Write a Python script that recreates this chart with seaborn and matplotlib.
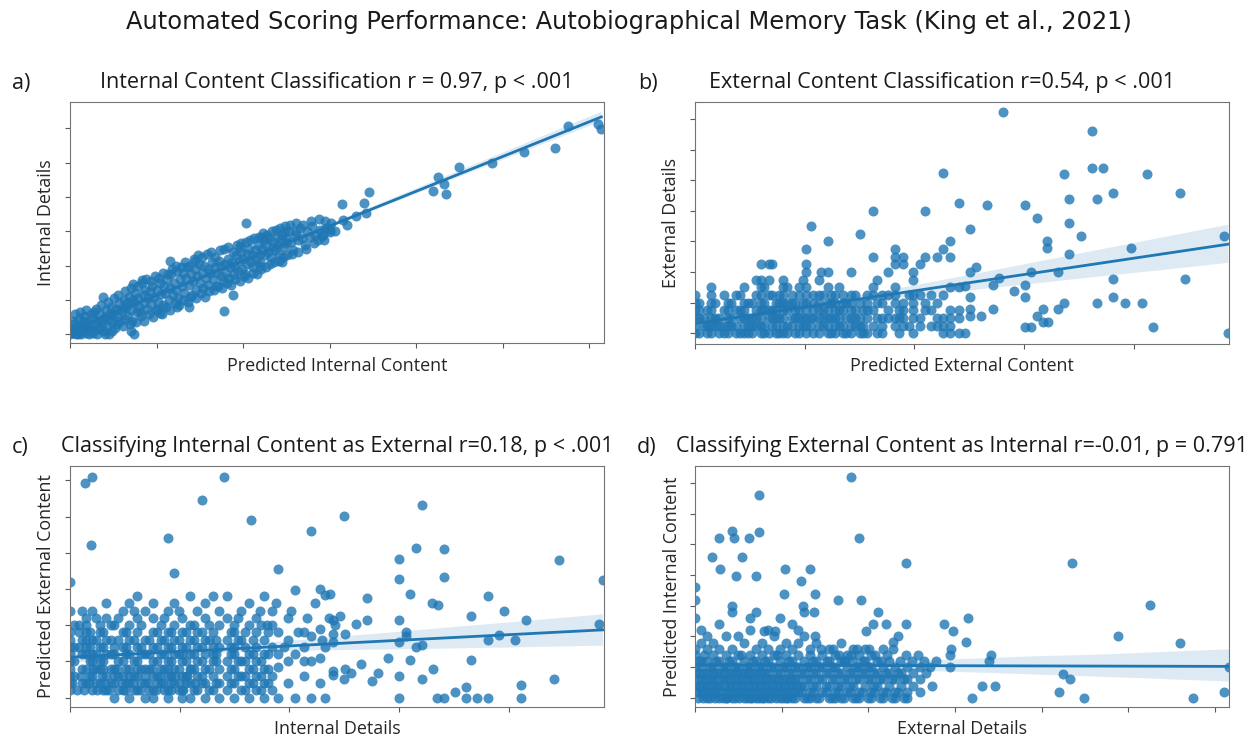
import matplotlib
matplotlib.use("Agg")
import matplotlib.pyplot as plt
from matplotlib.ticker import MultipleLocator
import seaborn as sns
import pandas as pd

# ---------------- data ----------------
# Panel a: Predicted Internal Content (x) vs Internal Details (y)
A_BAND = [
    (0.0,0.0),(0.2,1.5),(0.4,0.5),(0.5,3.0),(0.7,0.0),(0.8,2.2),(1.0,4.5),(1.1,1.0),(1.3,0.0),(1.4,2.8),
    (1.6,5.5),(1.7,1.8),(1.9,0.5),(2.0,3.5),(2.2,0.0),(2.3,2.5),(2.5,4.8),(2.6,1.2),(2.8,6.5),(2.9,3.0),
    (3.1,0.0),(3.2,4.0),(3.4,2.0),(3.5,6.0),(3.7,3.2),(3.9,1.0),(4.0,5.0),(4.2,7.0),(4.3,2.5),(4.5,4.5),
    (4.7,8.0),(4.8,3.5),(5.0,6.0),(5.2,2.0),(5.3,7.5),(5.5,5.0),(5.7,9.0),(5.8,3.8),(6.0,6.8),(6.2,10.0),
    (6.3,4.5),(6.5,8.0),(6.7,5.5),(6.8,11.0),(7.0,7.2),(7.2,4.0),(7.4,9.0),(7.5,12.0),(7.7,6.5),(7.9,10.5),
    (8.0,8.0),(8.2,5.5),(8.4,11.5),(8.5,9.2),(8.7,13.0),(8.9,7.5),(9.0,10.5),(9.2,12.5),(9.4,8.8),(9.5,14.0),
    (9.7,11.0),(9.9,7.0),(10.0,13.0),(10.2,9.5),(10.4,15.0),(10.5,11.8),(10.7,8.5),(10.9,14.0),(11.0,12.0),(11.2,16.0),
    (11.4,10.0),(11.5,13.5),(11.7,17.5),(11.9,11.5),(12.0,15.0),(12.2,13.0),(12.4,18.5),(12.5,10.5),(12.7,16.0),(12.9,14.0),
    (13.0,18.0),(13.2,12.0),(13.4,16.5),(13.5,19.5),(13.7,14.5),(13.9,11.0),(14.0,17.5),(14.2,15.5),(14.4,19.0),(14.5,13.0),
    (14.7,17.0),(14.9,20.5),(15.0,15.0),(15.2,18.0),(15.4,13.5),(15.5,20.0),(15.7,16.5),(15.9,19.0),(16.0,14.5),(16.2,17.8),
    (16.4,21.0),(16.5,16.0),(16.7,19.5),(16.9,14.0),(17.0,18.0),(17.2,21.5),(17.4,17.0),(17.5,19.8),(17.7,15.5),(17.9,20.5),
    (18.0,18.0),(18.2,22.0),(18.4,16.5),(18.5,19.5),(18.7,21.0),(18.9,17.5),(19.0,20.0),(19.2,23.0),(19.4,18.5),(19.5,21.5),
    (19.7,24.0),(19.9,19.0),(20.0,22.0),(20.2,17.5),(20.4,23.5),(20.5,20.5),(20.7,25.0),(20.9,21.0),(21.0,23.0),(21.2,19.5),
    (21.4,24.5),(21.5,22.0),(21.7,26.0),(21.9,23.5),(22.0,21.0),(22.2,25.0),(22.4,27.5),(22.5,23.0),(22.7,26.0),(22.9,24.0),
    (23.0,28.0),(23.2,22.5),(23.4,25.5),(23.5,27.0),(23.7,24.5),(23.9,28.5),(24.0,26.0),(24.2,23.5),(24.4,27.5),(24.5,29.0),
    (24.7,25.5),(24.9,28.0),(25.0,26.5),(25.3,30.0),(25.5,27.0),(25.8,24.5),(26.0,29.0),(26.3,27.5),(26.6,31.0),(26.8,28.0),
    (27.1,26.0),(27.4,30.0),(27.7,28.5),(28.0,31.5),(28.3,29.0),(28.6,27.5),(28.9,30.5),(29.2,29.0),(29.6,31.0),(30.0,30.5),
]
A_BAND_EDGES = [
    (0.3,4.0),(0.6,6.0),(0.9,0.0),(1.2,6.5),(1.5,3.8),(1.8,7.0),(2.1,1.5),(2.4,5.8),(2.7,0.5),(3.0,7.5),
    (3.3,1.5),(3.6,8.5),(3.8,4.5),(4.1,0.0),(4.4,9.5),(4.6,6.0),(4.9,1.0),(5.1,10.5),(5.4,3.0),(5.6,11.5),
    (5.9,7.5),(6.1,2.5),(6.4,12.5),(6.6,9.0),(6.9,3.0),(7.1,13.5),(7.3,10.0),(7.6,3.5),(7.8,14.0),(8.1,6.5),
    (8.3,15.0),(8.6,4.0),(8.8,16.0),(9.1,6.0),(9.3,15.5),(9.6,5.0),(9.8,17.0),(10.1,7.5),(10.3,16.5),(10.6,6.0),
    (10.8,18.0),(11.1,8.0),(11.3,17.5),(11.6,7.0),(11.8,19.0),(12.1,9.0),(12.3,20.0),(12.6,8.5),(12.8,19.5),(13.1,10.0),
    (13.3,21.0),(13.6,9.5),(13.8,20.0),(14.1,11.5),(14.3,22.0),(14.6,10.5),(14.8,23.0),(15.1,12.0),(15.3,22.5),(15.6,11.0),
    (15.8,23.5),(16.1,12.5),(16.3,24.0),(16.6,13.0),(16.8,22.5),(17.1,14.0),(17.3,24.5),(17.6,13.5),(17.8,25.0),(18.1,15.0),
    (18.3,25.5),(18.6,14.5),(18.8,24.0),(19.1,16.0),(19.3,26.0),(19.6,15.5),(19.8,26.5),(20.1,17.0),(20.3,27.0),(20.6,16.5),
    (20.8,27.5),(21.1,18.0),(21.3,28.0),(21.6,17.5),(21.8,28.5),(22.1,19.0),(22.3,29.5),(22.6,19.5),(22.8,29.0),(23.1,20.5),
    (23.3,30.0),(23.6,21.0),(23.8,30.5),(24.1,21.5),(24.3,31.0),(24.6,22.5),(24.8,31.5),(25.1,23.0),(25.4,32.0),(25.7,23.5),
    (26.1,32.5),(26.4,24.0),(26.9,32.0),(27.3,25.0),(27.8,33.0),(28.2,26.5),(28.8,33.5),(29.4,27.5),(30.2,32.5),(30.6,30.0),
]
A_SPARSE = [
    (3.8,10.8),(4.5,0.0),(7.4,0.0),(7.0,1.0),(8.3,15.8),(7.3,14.7),(10.4,6.1),(11.6,21.5),(12.4,8.1),(13.8,8.1),
    (14.4,21.5),(17.8,6.9),(18.8,11.5),(20.3,32.4),(19.6,25.5),(21.9,19.9),(24.5,21.0),(22.2,28.4),(24.8,29.9),(26.1,29.7),
    (29.1,28.6),(29.5,33.0),(30.0,29.7),(31.4,37.9),(31.5,33.3),(32.0,32.0),(33.0,34.6),(34.0,38.4),(34.2,35.3),(34.6,41.4),
    (42.0,41.8),(42.5,45.9),(43.2,43.8),(43.4,40.9),(44.9,48.8),(48.8,49.8),(52.5,53.0),(56.0,54.4),(57.5,60.7),(61.0,61.2),
    (61.4,59.7),
]

# Panel b: Predicted External Content (x) vs External Details (y)
B_DENSE = [
    (0.0,0),(0.0,2.5),(0.0,5),(0.0,7.5),(0.0,10),(0.0,12.5),
    (0.8,2.5),(0.8,5),
    (1.5,0),(1.5,2.5),(1.5,5),(1.5,7.5),(1.5,10),(1.5,12.5),(1.5,15),
    (2.2,0),(2.2,2.5),(2.2,5),
    (3.0,0),(3.0,2.5),(3.0,5),(3.0,7.5),(3.0,10),
    (3.7,0),(3.7,2.5),(3.7,7.5),(3.7,12.5),
    (4.5,0),(4.5,2.5),(4.5,5),(4.5,7.5),(4.5,10),(4.5,15),
    (5.2,0),(5.2,2.5),(5.2,5),(5.2,10),
    (6.0,0),(6.0,2.5),(6.0,5),(6.0,7.5),(6.0,10),(6.0,12.5),(6.0,15),(6.0,17.5),(6.0,22.5),
    (6.7,0),(6.7,5),(6.7,7.5),(6.7,12.5),(6.7,17.5),(6.7,22.5),
    (7.4,0),(7.4,2.5),(7.4,5),(7.4,7.5),(7.4,10),
    (8.0,0),(8.0,2.5),(8.0,5),(8.0,7.5),(8.0,10),(8.0,12.5),(8.0,15),(8.0,17.5),
    (8.8,2.5),(8.8,5),(8.8,10),(8.8,12.5),
    (9.5,0),(9.5,2.5),(9.5,5),(9.5,7.5),(9.5,12.5),(9.5,15),
    (10.1,0),(10.1,2.5),(10.1,5),(10.1,7.5),(10.1,10),(10.1,12.5),(10.1,15),(10.1,20),(10.1,22.5),(10.1,27.5),
    (10.6,2.5),(10.6,5),(10.6,35),
    (11.3,0),(11.3,2.5),(11.3,5),(11.3,7.5),(11.3,10),(11.3,12.5),(11.3,17.5),(11.5,20),
    (12.1,0),(12.1,2.5),(12.1,5),(12.1,7.5),(12.1,10),(12.1,15),(12.1,20),(12.1,30),
    (12.8,0),(12.8,2.5),(12.8,5),(12.8,7.5),(12.8,10),(12.8,12.5),
    (13.5,0),(13.5,2.5),(13.5,7.5),(13.5,10),(13.5,12.5),
    (14.2,0),(14.2,2.5),(14.2,5),(14.2,7.5),(14.2,10),(14.2,12.5),(14.2,20),
    (15.0,0),(15.0,2.5),(15.0,5),(15.0,10),(15.0,32.5),
    (15.7,0),(15.7,5),(15.7,7.5),(15.7,10),(15.7,12.5),
    (16.2,2.5),(16.2,7.5),(16.2,12.5),(16.2,15),(16.2,25),(16.2,40),
    (17.0,0),(17.0,2.5),(17.0,5),(17.0,10),(17.0,12.5),
    (17.6,5),(17.6,7.5),(17.6,12.5),(17.6,20),
    (18.2,2.5),(18.2,5),(18.2,10),(18.2,12.5),(18.2,15),(18.2,22.5),(18.2,25),(18.2,27.5),
    (19.0,2.5),(19.0,5),(19.0,7.5),(19.0,10),(19.0,22.5),(19.0,25),
    (19.9,0),(19.9,5),(19.9,7.5),(19.9,10),(19.9,12.5),(19.9,17.5),(19.9,20),
    (20.5,2.5),(20.5,5),(20.5,12.5),(20.5,22.5),
    (21.0,7.5),(21.0,10),(21.0,25),(21.0,40),
    (22.1,2.5),(22.1,5),(22.1,10),(22.1,25),
    (22.6,0),(22.6,2.5),(22.6,5),(22.6,12.5),(22.6,27.5),(22.6,52.5),
    (23.2,0),(23.2,2.5),(23.2,5),(23.2,7.5),(23.2,15),(23.2,25),(23.2,30),
    (24.1,0),(24.1,5),(24.1,7.5),(24.1,15),(24.1,42.5),
]
B_DENSE_FILL = [
    (0.4,0),(0.4,5),(0.4,7.5),(0.4,10),
    (1.1,0),(1.1,2.5),(1.1,7.5),
    (1.8,2.5),(1.8,5),(1.8,10),
    (2.6,0),(2.6,2.5),(2.6,7.5),(2.6,12.5),
    (3.3,2.5),(3.3,5),(3.3,10),
    (4.1,0),(4.1,5),(4.1,7.5),(4.1,12.5),
    (4.8,0),(4.8,2.5),(4.8,5),(4.8,10),
    (5.6,2.5),(5.6,5),(5.6,7.5),(5.6,12.5),(5.6,17.5),
    (6.3,0),(6.3,2.5),(6.3,7.5),(6.3,10),(6.3,15),
    (7.0,2.5),(7.0,5),(7.0,7.5),(7.0,12.5),(7.0,22.5),
    (7.7,0),(7.7,5),(7.7,10),(7.7,12.5),
    (8.4,0),(8.4,2.5),(8.4,7.5),(8.4,10),(8.4,15),
    (9.1,0),(9.1,5),(9.1,7.5),(9.1,10),
    (9.8,2.5),(9.8,5),(9.8,10),(9.8,17.5),
    (10.8,0),(10.8,5),(10.8,7.5),(10.8,10),(10.8,12.5),
    (11.7,2.5),(11.7,5),(11.7,7.5),(11.7,12.5),
    (12.4,0),(12.4,5),(12.4,10),(12.4,12.5),
    (13.1,2.5),(13.1,5),(13.1,7.5),(13.1,15),
    (13.8,0),(13.8,5),(13.8,10),
    (14.6,2.5),(14.6,5),(14.6,7.5),(14.6,12.5),
    (15.3,0),(15.3,2.5),(15.3,7.5),
    (16.6,0),(16.6,5),(16.6,10),(16.6,17.5),
    (18.6,0),(18.6,5),(18.6,7.5),
    (19.5,2.5),(19.5,12.5),
    (21.5,2.5),(21.5,7.5),(21.5,12.5),
]
B_SPARSE = [
    (28.1,72.2),(36.2,66.1),(36.2,54.1),(37.2,54.1),(33.6,52.0),(41.2,52.0),(34.1,43.9),(36.6,43.9),(38.1,46.0),(44.2,46.0),
    (26.6,41.9),(30.1,41.9),(31.2,37.8),(25.1,34.0),(34.1,36.0),(35.2,31.9),(32.1,30.0),(32.1,27.8),(34.1,25.8),(39.7,27.8),
    (48.2,31.9),(25.6,21.8),(25.1,19.9),(27.7,18.0),(27.2,15.8),(30.6,19.9),(33.1,19.9),(38.1,17.8),(44.7,17.8),(29.1,13.8),
    (30.1,15.8),(30.1,11.8),(25.1,11.8),(24.6,15.3),(25.1,7.8),(25.1,5.8),(26.1,5.8),(27.2,7.8),(24.6,0.0),(30.1,1.9),
    (30.6,1.9),(31.2,5.8),(31.7,7.8),(31.7,3.8),(32.2,3.8),(33.1,7.8),(33.6,9.8),(36.6,9.8),(38.1,11.8),(39.2,9.8),
    (40.7,9.8),(41.7,1.9),(48.6,0.0),
]

# Panel c: Internal Details (x) vs Predicted External Content (y)
C_DENSE = [
    (0.0,2),(0.0,4),(0.0,6),(0.0,8),(0.0,10),(0.0,12),(0.0,14),(0.0,16),(0.0,18),(0.0,24),(0.0,32),
    (0.8,14),(0.8,18),(0.8,20),
    (1.5,4),(1.5,8),(1.5,12),(1.5,14),(1.5,16),(1.5,18),(1.5,20),(1.5,22),(1.4,59.4),
    (2.0,2),(2.0,6),(2.0,10),(2.0,12),(2.0,16),(2.0,24),(2.0,61),(1.9,42.1),
    (2.7,4),(2.7,8),(2.7,10),(2.7,14),(2.7,18),(2.7,20),
    (3.3,2),(3.3,6),(3.3,12),(3.3,16),(3.3,22),(3.3,26),
    (4.0,0),(4.0,4),(4.0,8),(4.0,12),(4.0,14),(4.0,20),
    (4.8,2),(4.8,6),(4.8,10),(4.8,14),(4.8,18),(4.8,24),
    (5.4,0),(5.4,4),(5.4,8),(5.4,12),(5.4,16),(5.4,20),(5.4,26),
    (6.1,2),(6.1,6),(6.1,10),(6.1,14),(6.1,18),(6.1,22),(6.1,28),
    (6.8,0),(6.8,4),(6.8,8),(6.8,12),(6.8,16),(6.8,24),
    (7.6,0),(7.6,2),(7.6,6),(7.6,10),(7.6,14),(7.6,18),(7.6,22),(7.6,26),
    (8.3,4),(8.3,8),(8.3,12),(8.3,16),(8.3,20),
    (8.9,0),(8.9,2),(8.9,6),(8.9,10),(8.9,14),(8.9,18),(8.9,24),(8.9,44.1),
    (9.5,4),(9.5,8),(9.5,12),(9.5,16),(9.5,20),(9.5,26),(9.5,34.5),
    (10.2,0),(10.2,2),(10.2,6),(10.2,10),(10.2,12),(10.2,14),(10.2,18),(10.2,22),
    (10.9,0),(10.9,4),(10.9,8),(10.9,12),(10.9,16),(10.9,20),(10.9,28),
    (11.6,2),(11.6,6),(11.6,10),(11.6,14),(11.6,18),(11.6,24),
    (12.0,54.5),
    (12.3,0),(12.3,4),(12.3,8),(12.3,12),(12.3,16),(12.3,22),(12.3,26),
    (13.0,2),(13.0,6),(13.0,10),(13.0,12),(13.0,14),(13.0,18),(13.0,28),
    (13.6,0),(13.6,4),(13.6,8),(13.6,14),(13.6,20),(13.6,24),
    (14.0,61),
    (14.3,2),(14.3,6),(14.3,10),(14.3,16),(14.3,22),(14.3,28),
    (15.0,0),(15.0,4),(15.0,8),(15.0,12),(15.0,14),(15.0,18),(15.0,20),
    (15.6,2),(15.6,6),(15.6,10),(15.6,16),(15.6,24),
    (16.3,0),(16.3,4),(16.3,8),(16.3,12),(16.3,20),(16.3,26),
    (16.5,49),
    (17.0,2),(17.0,6),(17.0,10),(17.0,14),(17.0,18),(17.0,22),
    (17.7,0),(17.7,4),(17.7,8),(17.7,12),(17.7,16),(17.7,28),
    (18.4,2),(18.4,6),(18.4,14),(18.4,20),(18.4,24),
    (19.0,0),(19.0,8.5),(19.0,12),(19.0,18),(19.0,35.6),
    (19.9,4),(19.9,10),(19.9,16),(19.9,22),
    (20.5,0),(20.5,12),(20.5,29.6),
    (21.3,6),(21.3,10),(21.3,14),(21.3,18),
    (22.0,0),(22.0,10),(22.0,17),(22.0,46),
    (22.8,4),(22.8,11),(22.8,19),(22.8,30),
    (23.3,0),(23.3,14),(23.3,28.3),
]
C_DENSE_FILL = [
    (0.4,6),(0.4,10),(0.4,14),(0.4,20),
    (1.1,4),(1.1,8),(1.1,12),(1.1,16),(1.1,24),
    (1.8,6),(1.8,10),(1.8,14),(1.8,18),
    (2.4,4),(2.4,8),(2.4,12),(2.4,16),(2.4,22),
    (3.0,2),(3.0,8),(3.0,10),(3.0,14),(3.0,18),
    (3.7,4),(3.7,8),(3.7,12),(3.7,16),(3.7,20),
    (4.4,2),(4.4,6),(4.4,10),(4.4,16),(4.4,22),
    (5.1,4),(5.1,8),(5.1,12),(5.1,14),(5.1,18),
    (5.8,2),(5.8,6),(5.8,10),(5.8,16),(5.8,24),
    (6.5,4),(6.5,8),(6.5,12),(6.5,14),(6.5,20),
    (7.2,2),(7.2,8),(7.2,12),(7.2,16),
    (7.9,4),(7.9,6),(7.9,10),(7.9,14),(7.9,18),
    (8.6,2),(8.6,8),(8.6,12),(8.6,16),(8.6,22),
    (9.2,4),(9.2,6),(9.2,10),(9.2,14),(9.2,18),
    (9.9,2),(9.9,8),(9.9,12),(9.9,16),(9.9,24),
    (10.6,4),(10.6,6),(10.6,10),(10.6,14),(10.6,18),
    (11.3,2),(11.3,8),(11.3,12),(11.3,16),(11.3,20),
    (12.0,4),(12.0,6),(12.0,10),(12.0,14),(12.0,18),
    (12.7,2),(12.7,8),(12.7,16),(12.7,20),
    (13.3,4),(13.3,10),(13.3,12),(13.3,16),
    (14.7,4),(14.7,8),(14.7,12),(14.7,14),(14.7,18),
    (15.3,6),(15.3,10),(15.3,16),(15.3,22),
    (16.0,2),(16.0,6),(16.0,10),(16.0,14),(16.0,18),
    (16.7,4),(16.7,8),(16.7,12),(16.7,16),
    (17.4,2),(17.4,6),(17.4,10),(17.4,20),
    (18.1,4),(18.1,8),(18.1,12),(18.1,18),
]
C_LOW_ROWS = [
    (0.2,4),(0.6,2),(1.0,6),(1.3,2),(1.7,4),(2.1,8),(2.5,2),(2.9,6),(3.2,4),(3.6,2),
    (4.0,6),(4.3,8),(4.7,4),(5.0,2),(5.4,6),(5.7,4),(6.1,8),(6.4,2),(6.8,6),(7.1,4),
    (7.5,8),(7.8,2),(8.2,6),(8.5,4),(8.9,8),(9.2,2),(9.6,6),(10.0,4),(10.3,2),(10.7,6),
    (11.0,8),(11.4,4),
]
C_RIGHT_EDGE = [
    (17.3,24),(18.0,20),(18.8,26),(19.5,14),(20.2,24),(20.8,18),(21.6,22),(22.3,26),(23.0,16),(23.6,22),(24.2,20),
]
C_SPARSE = [
    (25.0,50.1),(32.1,53.1),(31.6,41.4),(34.1,41.0),(34.1,33.3),(30.0,38.4),(30.0,32.9),(44.6,37.9),(48.6,32.4),(31.0,28.5),
    (27.1,27.5),(23.7,28.5),(33.0,26.2),(33.6,25.5),(38.1,28.0),(39.6,23.9),(41.6,21.5),(36.6,22.6),(27.1,21.5),(26.1,20.3),
    (24.6,22.6),(24.0,21.4),(30.0,21.5),(25.1,17.5),(24.0,17.5),(24.0,15.4),(30.6,18.0),(30.6,17.0),(30.0,15.4),(31.6,14.0),
    (32.1,14.6),(38.1,15.8),(39.1,17.4),(40.6,15.8),(48.2,20.3),(29.0,11.0),(26.5,9.4),(31.0,10.5),(36.6,10.5),(24.0,7.3),
    (25.1,7.8),(25.6,6.9),(24.0,6.2),(28.1,6.9),(27.5,4.5),(25.0,5.0),(30.0,6.0),(33.1,7.8),(32.1,5.0),(44.1,5.0),
    (41.1,3.6),(41.1,0.0),(30.0,0.0),(33.5,0.0),(34.1,0.0),(35.1,1.6),(36.1,2.9),(36.1,0.0),(37.1,0.0),(38.1,0.0),
]

# Panel d: External Details (x) vs Predicted Internal Content (y)
D_DENSE = [
    (0.0,4),(0.0,8),(0.0,10),(0.0,14),(0.0,16),(0.0,26),(0.0,32),(0.0,36),
    (0.7,2),(0.7,6),(0.7,10),(0.7,12),(0.7,18),(0.7,22),
    (1.4,0),(1.4,4),(1.4,8),(1.4,12),(1.4,16),(1.4,20),
    (2.1,2),(2.1,6),(2.1,10),(2.1,14),(2.1,18),
    (2.8,0),(2.8,4),(2.8,8),(2.8,12),(2.8,16),(2.8,24),
    (3.5,0),(3.5,2),(3.5,6),(3.5,10),(3.5,14),(3.5,20),
    (4.2,0),(4.2,4),(4.2,8),(4.2,12),(4.2,16),(4.2,30),(4.2,28),
    (4.9,2),(4.9,6),(4.9,10),(4.9,14),(4.9,20),
    (5.6,0),(5.6,4),(5.6,8),(5.6,12),(5.6,18),
    (6.3,0),(6.3,2),(6.3,6),(6.3,10),(6.3,14),(6.3,22),(6.3,26),
    (7.0,0),(7.0,4),(7.0,8),(7.0,12),(7.0,16),(7.0,28),
    (7.7,0),(7.7,2),(7.7,6),(7.7,10),(7.7,14),(7.7,18),
    (8.4,0),(8.4,4),(8.4,8),(8.4,12),(8.4,16),(8.4,22),
    (9.1,2),(9.1,6),(9.1,10),(9.1,14),(9.1,20),
    (9.8,0),(9.8,4),(9.8,8),(9.8,12),(9.8,16),(9.8,26),
    (10.5,0),(10.5,2),(10.5,6),(10.5,10),(10.5,14),(10.5,18),
    (11.2,0),(11.2,4),(11.2,8),(11.2,12),(11.2,16),(11.2,24),
    (11.9,2),(11.9,6),(11.9,10),(11.9,14),(11.9,18),(11.9,22),
    (12.6,0),(12.6,4),(12.6,8),(12.6,12),(12.6,20),(12.6,28),
    (13.3,0),(13.3,2),(13.3,6),(13.3,10),(13.3,14),(13.3,16),
    (14.0,0),(14.0,4),(14.0,8),(14.0,12),(14.0,18),
    (14.7,2),(14.7,6),(14.7,10),(14.7,14),
    (15.4,0),(15.4,4),(15.4,8),(15.4,12),(15.4,16),
    (16.1,0),(16.1,2),(16.1,6),(16.1,10),(16.1,14),
    (16.8,0),(16.8,4),(16.8,8),(16.8,12),(16.8,18),
    (17.5,2),(17.5,6),(17.5,10),(17.5,14),
    (18.2,0),(18.2,4),(18.2,8),(18.2,12),(18.2,16),
    (18.9,0),(18.9,2),(18.9,6),(18.9,10),(18.9,14),
    (19.6,4),(19.6,8),(19.6,12),(19.6,16),
    (20.3,0),(20.3,2),(20.3,6),(20.3,10),(20.3,14),
    (21.0,4),(21.0,8),(21.0,12),
    (21.7,0),(21.7,2),(21.7,6),(21.7,10),(21.7,16),
    (22.4,4),(22.4,8),(22.4,12),
    (23.1,0),(23.1,2),(23.1,6),(23.1,10),
    (23.8,4),(23.8,8),
    (24.5,0),(24.5,2),(24.5,6),(24.5,10),
    (25.2,4),(25.2,8),
    (26.0,2),(26.0,6),(26.0,10),
    (26.7,8),(27.4,4),
]
D_DENSE_FILL = [
    (0.35,0),(0.35,6),(0.35,12),
    (1.05,2),(1.05,4),(1.05,8),(1.05,14),
    (1.75,0),(1.75,6),(1.75,10),
    (2.45,2),(2.45,4),(2.45,8),(2.45,12),
    (3.15,0),(3.15,6),(3.15,10),
    (3.85,2),(3.85,4),(3.85,8),(3.85,12),
    (4.55,0),(4.55,6),(4.55,10),
    (5.25,2),(5.25,4),(5.25,8),(5.25,14),
    (5.95,0),(5.95,6),(5.95,10),
    (6.65,2),(6.65,4),(6.65,8),(6.65,12),
    (7.35,0),(7.35,6),(7.35,10),
    (8.05,2),(8.05,4),(8.05,8),(8.05,12),
    (8.75,0),(8.75,6),(8.75,10),
    (9.45,2),(9.45,4),(9.45,8),(9.45,14),
    (10.15,0),(10.15,6),(10.15,10),
    (10.85,2),(10.85,4),(10.85,8),(10.85,12),
    (11.55,0),(11.55,6),(11.55,10),
    (12.25,2),(12.25,4),(12.25,8),
    (12.95,0),(12.95,6),(12.95,10),
    (13.65,2),(13.65,4),(13.65,8),(13.65,12),
    (14.35,0),(14.35,6),(14.35,10),
    (15.05,2),(15.05,4),(15.05,8),
    (15.75,0),(15.75,6),(15.75,10),
    (16.45,2),(16.45,4),(16.45,8),
    (17.15,0),(17.15,6),(17.15,12),
    (17.85,2),(17.85,4),(17.85,8),
    (18.55,0),(18.55,6),(18.55,10),
    (19.25,2),(19.25,8),
    (19.95,0),(19.95,6),(19.95,10),
    (20.65,2),(20.65,4),(20.65,8),
    (21.35,0),(21.35,6),
    (22.05,2),(22.05,8),
    (22.75,0),(22.75,6),
    (23.45,2),(23.45,8),
    (24.15,0),(24.15,6),
]
D_LOW_ROWS = [
    (0.2,2),(0.5,4),(0.9,0),(1.2,6),(1.6,2),(1.9,4),(2.3,0),(2.6,6),(3.0,2),(3.3,4),
    (3.7,0),(4.0,6),(4.4,2),(4.7,4),(5.1,0),(5.4,6),(5.8,2),(6.1,4),(6.5,0),(6.8,6),
    (7.2,2),(7.5,4),(7.9,0),(8.2,6),(8.6,2),(8.9,4),(9.3,0),(9.6,6),(10.0,2),(10.3,4),
    (10.7,0),(11.0,6),(11.4,2),(11.7,4),(0.6,8),(2.0,8),(3.4,8),(4.8,8),(6.2,8),(7.6,8),
]
D_MID_ROWS = [
    (14.5,16),(15.2,12),(15.9,16),(16.6,14),(17.3,12),(18.0,14),(18.7,16),(19.4,12),(20.1,16),(20.8,14),
    (21.5,12),(22.2,14),(22.9,16),(23.6,12),(24.3,14),(25.0,12),(25.7,14),(26.4,12),(27.1,10),(27.8,12),
]
D_SPARSE = [
    (18.0,71.9),(7.4,65.9),(18.9,52.0),(4.2,54.2),(4.5,52.0),(2.7,52.0),(6.2,52.0),(7.4,54.0),(1.9,45.8),(5.4,45.8),
    (2.9,42.0),(4.7,39.8),(7.0,39.8),(10.4,42.0),(13.3,42.0),(24.4,44.0),(12.2,38.0),(10.2,33.9),(13.8,33.9),(16.5,31.9),
    (19.2,31.9),(12.4,30.0),(21.1,27.9),(20.5,23.9),(22.0,23.9),(24.3,23.9),(19.7,21.9),(28.7,23.9),(29.8,21.9),(7.9,21.9),
    (9.2,21.9),(13.7,27.9),(13.8,20.1),(23.4,20.1),(22.9,18.1),(31.5,25.9),(31.3,18.1),
    (43.5,44.0),(52.5,30.1),(48.8,20.0),(56.0,17.9),(29.6,16.0),(29.4,14.0),(34.2,14.0),(33.9,11.9),(29.4,10.0),
    (61.7,10.0),(42.5,7.8),(43.3,6.0),(33.1,4.0),(34.6,4.0),(32.0,0.0),(42.0,1.8),(44.9,0.0),(57.5,0.0),(61.1,1.8),
]

SUPTITLE = "Automated Scoring Performance: Autobiographical Memory Task (King et al., 2021)"
TITLES = [
    "Internal Content Classification r = 0.97, p < .001",
    "External Content Classification r=0.54, p < .001",
    "Classifying Internal Content as External r=0.18, p < .001",
    "Classifying External Content as Internal r=-0.01, p = 0.791",
]
PANEL_LETTERS = ["a)", "b)", "c)", "d)"]
XLABELS = ["Predicted Internal Content", "Predicted External Content", "Internal Details", "External Details"]
YLABELS = ["Internal Details", "External Details", "Predicted External Content", "Predicted Internal Content"]

# ---------------- drawing ----------------
def frame(*parts):
    pts = [p for part in parts for p in part]
    return pd.DataFrame(pts, columns=["x", "y"])

frames = [frame(A_BAND, A_BAND_EDGES, A_SPARSE),
          frame(B_DENSE, B_DENSE_FILL, B_SPARSE),
          frame(C_DENSE, C_DENSE_FILL, C_LOW_ROWS, C_RIGHT_EDGE, C_SPARSE),
          frame(D_DENSE, D_DENSE_FILL, D_LOW_ROWS, D_MID_ROWS, D_SPARSE)]

FONT = ["Open Sans", "DejaVu Sans"]

fig = plt.figure(figsize=(12.57, 7.38), dpi=100)
rects = [
    [0.0557, 0.5348, 0.4248, 0.3266],
    [0.5529, 0.5335, 0.4251, 0.3279],
    [0.0557, 0.0420, 0.4248, 0.3266],
    [0.5531, 0.0420, 0.4249, 0.3266],
]
xlims = [(0, 61.7), (0, 48.7), (0, 48.7), (0, 61.7)]
ylims = [(-2.6, 67.6), (-3.6, 75.5), (-2.6, 64.0), (-3.0, 75.5)]
title_x = [0.5, 0.462, 0.5, 0.5]
letter_pos = [(12, 80), (638, 80), (12, 445), (637, 445)]

for i, df in enumerate(frames):
    ax = fig.add_axes(rects[i])
    sns.regplot(data=df, x="x", y="y", ax=ax, color="#1f77b4", seed=0,
                scatter_kws=dict(s=52, alpha=0.8, linewidths=0),
                line_kws=dict(lw=2))
    ax.set_xlim(*xlims[i])
    ax.set_ylim(*ylims[i])
    ax.xaxis.set_major_locator(MultipleLocator(10))
    ax.yaxis.set_major_locator(MultipleLocator(10))
    ax.tick_params(labelbottom=False, labelleft=False, color="0.35", length=3.5)
    for sp in ax.spines.values():
        sp.set_color("0.45")
    ax.set_xlabel(XLABELS[i], fontsize=12.9, family=FONT, labelpad=6, color="0.15")
    ax.set_ylabel(YLABELS[i], fontsize=12.9, family=FONT, labelpad=7, color="0.15")
    ax.set_title(TITLES[i], fontsize=15.5, family=FONT, pad=10, x=title_x[i], color="0.1")
    lx, ly = letter_pos[i]
    fig.text(lx / 1257, 1 - (ly + 3) / 738, PANEL_LETTERS[i], fontsize=15.5, family=FONT,
             va="center", ha="left", color="0.1")

fig.text(0.5, 1 - 22 / 738, SUPTITLE, fontsize=17.4, family="DejaVu Sans",
         ha="center", va="center", color="0.1")

fig.savefig("out.png", dpi=100)
